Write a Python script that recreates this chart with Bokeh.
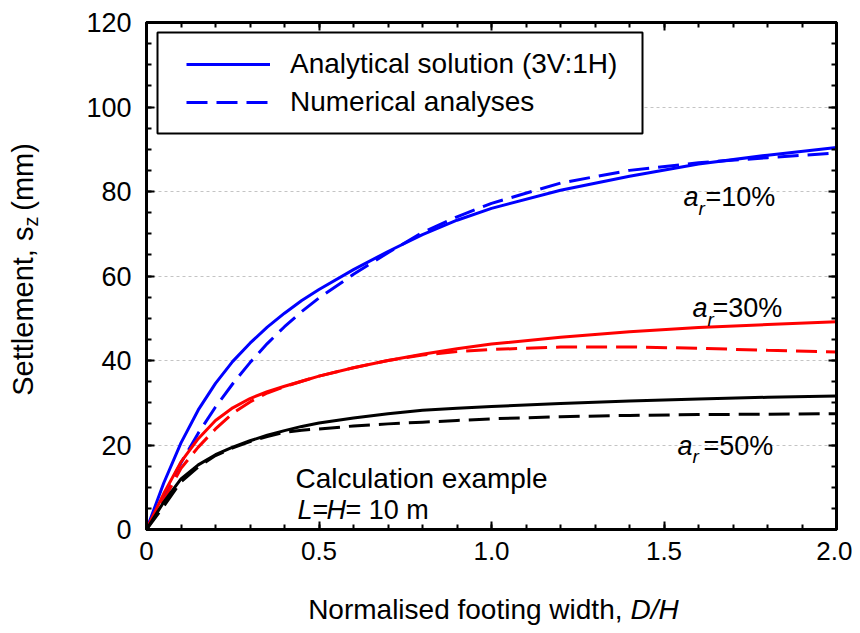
import math
from bokeh.plotting import figure
from bokeh.layouts import row, column
from bokeh.models import (Range1d, LinearAxis, FixedTicker, Label, Legend, LegendItem,
                          BoxAnnotation, NumeralTickFormatter)
from bokeh.embed import file_html
from bokeh.resources import INLINE

# ---------------- data ----------------
x_vals = [0, 0.05, 0.1, 0.15, 0.2, 0.25, 0.3, 0.35, 0.4, 0.45, 0.5, 0.6, 0.7, 0.8, 0.9, 1.0,
          1.2, 1.4, 1.6, 1.8, 2.0]

ana_10 = [0, 11.0, 20.5, 28.3, 34.6, 39.8, 44.1, 47.9, 51.2, 54.2, 56.8, 61.5, 65.8, 69.8, 73.2, 76.0,
          80.3, 83.6, 86.5, 88.6, 90.4]
num_10 = [0, 8.0, 15.8, 22.8, 29.0, 34.5, 39.5, 44.0, 48.0, 51.6, 54.8, 60.4, 65.5, 70.3, 74.0, 77.2,
          82.0, 85.0, 86.8, 88.0, 89.1]

ana_30 = [0, 8.5, 16.0, 21.5, 25.8, 28.8, 31.0, 32.6, 33.9, 35.1, 36.3, 38.3, 40.0, 41.5, 42.8, 43.9,
          45.5, 46.8, 47.8, 48.5, 49.2]
num_30 = [0, 7.0, 14.5, 19.5, 23.8, 27.5, 30.2, 32.3, 33.8, 35.1, 36.3, 38.3, 40.0, 41.3, 42.1, 42.6,
          43.2, 43.2, 42.9, 42.4, 42.0]

ana_50 = [0, 6.5, 12.0, 15.3, 17.7, 19.5, 21.0, 22.3, 23.4, 24.4, 25.2, 26.4, 27.4, 28.2, 28.7, 29.1,
          29.8, 30.4, 30.9, 31.3, 31.6]
num_50 = [0, 5.5, 11.3, 14.8, 17.5, 19.3, 20.8, 22.0, 23.0, 23.5, 23.8, 24.5, 25.0, 25.4, 25.8, 26.2,
          26.7, 27.0, 27.2, 27.3, 27.4]

x_ticks = [0, 0.5, 1.0, 1.5, 2.0]
x_tick_labels = ["0", "0.5", "1.0", "1.5", "2.0"]
y_ticks = [0, 20, 40, 60, 80, 100, 120]
grid_ticks = [20, 40, 60, 80, 100]

legend_labels = ["Analytical solution (3V:1H)", "Numerical analyses"]
ratio_labels = ["=10%", "=30%", "=50%"]

FONT = "Liberation Sans"
BLUE, RED, BLACK = "#0000ff", "#ff0000", "#000000"
DASH = "21 9"

YW = 60          # width of the y-title strip
PH = 579         # height of the main figure
XH = 50          # height of the x-title strip

p = figure(frame_width=690, frame_height=507,
           min_border_left=146 - YW, min_border_right=16, min_border_top=22, min_border_bottom=PH - 22 - 507,
           x_range=Range1d(0, 2.0), y_range=Range1d(0, 120),
           output_backend="svg", toolbar_location=None,
           background_fill_color="white", border_fill_color="white")

p.outline_line_color = BLACK
p.outline_line_width = 3

# lines
r_a10 = p.line(x_vals, ana_10, line_color=BLUE, line_width=3, line_join="round")
r_n10 = p.line(x_vals, num_10, line_color=BLUE, line_width=3, line_dash=DASH)
p.line(x_vals, ana_30, line_color=RED, line_width=3, line_join="round")
p.line(x_vals, num_30, line_color=RED, line_width=3, line_dash=DASH)
p.line(x_vals, ana_50, line_color=BLACK, line_width=3, line_join="round")
p.line(x_vals, num_50, line_color=BLACK, line_width=3, line_dash=DASH)

# axes
xticker = FixedTicker(ticks=x_ticks, minor_ticks=[i / 10 for i in range(0, 21)])
yticker = FixedTicker(ticks=y_ticks, minor_ticks=list(range(0, 121, 5)))

def style_axis(ax, size="26px"):
    ax.axis_line_color = BLACK
    ax.axis_line_width = 3
    ax.major_tick_in = 8
    ax.major_tick_out = 0
    ax.minor_tick_in = 5
    ax.minor_tick_out = 0
    ax.major_tick_line_width = 2
    ax.minor_tick_line_width = 2
    ax.major_tick_line_color = BLACK
    ax.minor_tick_line_color = BLACK
    ax.major_label_text_font = FONT
    ax.major_label_text_font_size = size
    ax.major_label_text_color = BLACK

xa = p.xaxis[0]
xa.ticker = xticker
xa.formatter = NumeralTickFormatter(format="0.0")
xa.major_label_overrides = {t: s for t, s in zip(x_ticks, x_tick_labels)}
style_axis(xa, "26px")
xa.major_label_standoff = 12

ya = p.yaxis[0]
ya.ticker = yticker
style_axis(ya, "27px")
ya.major_label_standoff = 15

top = LinearAxis(ticker=xticker, major_label_overrides={t: "" for t in x_ticks})
style_axis(top)
top.major_label_standoff = 0
p.add_layout(top, "above")
right = LinearAxis(ticker=yticker, major_label_overrides={t: "" for t in y_ticks})
style_axis(right)
right.major_label_standoff = 0
p.add_layout(right, "right")

p.xgrid.visible = False
p.ygrid.ticker = FixedTicker(ticks=grid_ticks)
p.ygrid.grid_line_color = "#c4c4c4"
p.ygrid.grid_line_dash = "3 3"
p.ygrid.grid_line_width = 1

# legend box + legend
box = BoxAnnotation(left=0.0319, right=1.4377, top=117.63, bottom=93.73,
                    fill_color="white", fill_alpha=1.0,
                    line_color=BLACK, line_alpha=1.0, line_width=2)
p.add_layout(box)

legend = Legend(items=[LegendItem(label=legend_labels[0], renderers=[r_a10]),
                       LegendItem(label=legend_labels[1], renderers=[r_n10])],
                location=(40, 408), border_line_color=None, background_fill_alpha=0,
                padding=0, spacing=0, glyph_width=84, glyph_height=38, label_height=38,
                label_standoff=20, label_text_font=FONT, label_text_font_size="28px",
                label_text_color=BLACK, margin=0)
p.add_layout(legend)

def lab(fig, x, y, text, size="27px", style="normal", align="left", baseline="alphabetic", angle=0.0):
    fig.add_layout(Label(x=x, y=y, text=text, text_font=FONT, text_font_size=size,
                         text_font_style=style, text_align=align, text_baseline=baseline,
                         text_color=BLACK, angle=angle))

# ratio annotations: a_r = ...
ratio_pos = [  # (a x, a y, r x, r y, rest x)
    (1.5565, 78.58, 1.600, 75.98, 1.6203),
    (1.5826, 52.31, 1.6261, 49.70, 1.6406),
    (1.5391, 19.88, 1.5826, 17.28, 1.6145),
]
for (ax_, ay_, rx_, ry_, ex_), txt in zip(ratio_pos, ratio_labels):
    lab(p, ax_, ay_, "a", style="italic")
    lab(p, rx_, ry_, "r", size="19px", style="italic")
    lab(p, ex_, ay_, txt)

# calculation example
lab(p, 0.4319, 12.07, "Calculation example", size="28px")
lab(p, 0.4377, 4.50, "L", style="italic")
lab(p, 0.4812, 4.50, "=")
lab(p, 0.5217, 4.50, "H", style="italic")
lab(p, 0.5768, 4.50, "= 10 m")

# ---------------- y title strip ----------------
yfig = figure(width=YW, height=PH, x_range=Range1d(0, YW), y_range=Range1d(0, PH),
              min_border=0, x_axis_location=None, y_axis_location=None,
              outline_line_color=None, output_backend="svg", toolbar_location=None)
yfig.grid.visible = False
lab(yfig, 22, PH - 233, "Settlement, s", size="29px", align="right", angle=math.pi / 2)
lab(yfig, 30, PH - 233, "z", size="20px", align="left", angle=math.pi / 2)
lab(yfig, 22, PH - 215, "(mm)", size="29px", align="left", angle=math.pi / 2)

# ---------------- x title strip ----------------
xfig = figure(width=YW + 792, height=XH, x_range=Range1d(0, YW + 792), y_range=Range1d(0, XH),
              min_border=0, x_axis_location=None, y_axis_location=None,
              outline_line_color=None, output_backend="svg", toolbar_location=None)
xfig.grid.visible = False
lab(xfig, 622, 20, "Normalised footing width,", size="28px", align="right")
lab(xfig, 630, 20, "D/H", size="28px", style="italic")

layout = column(row(yfig, p), xfig)
open("out.html", "w").write(file_html(layout, INLINE))
